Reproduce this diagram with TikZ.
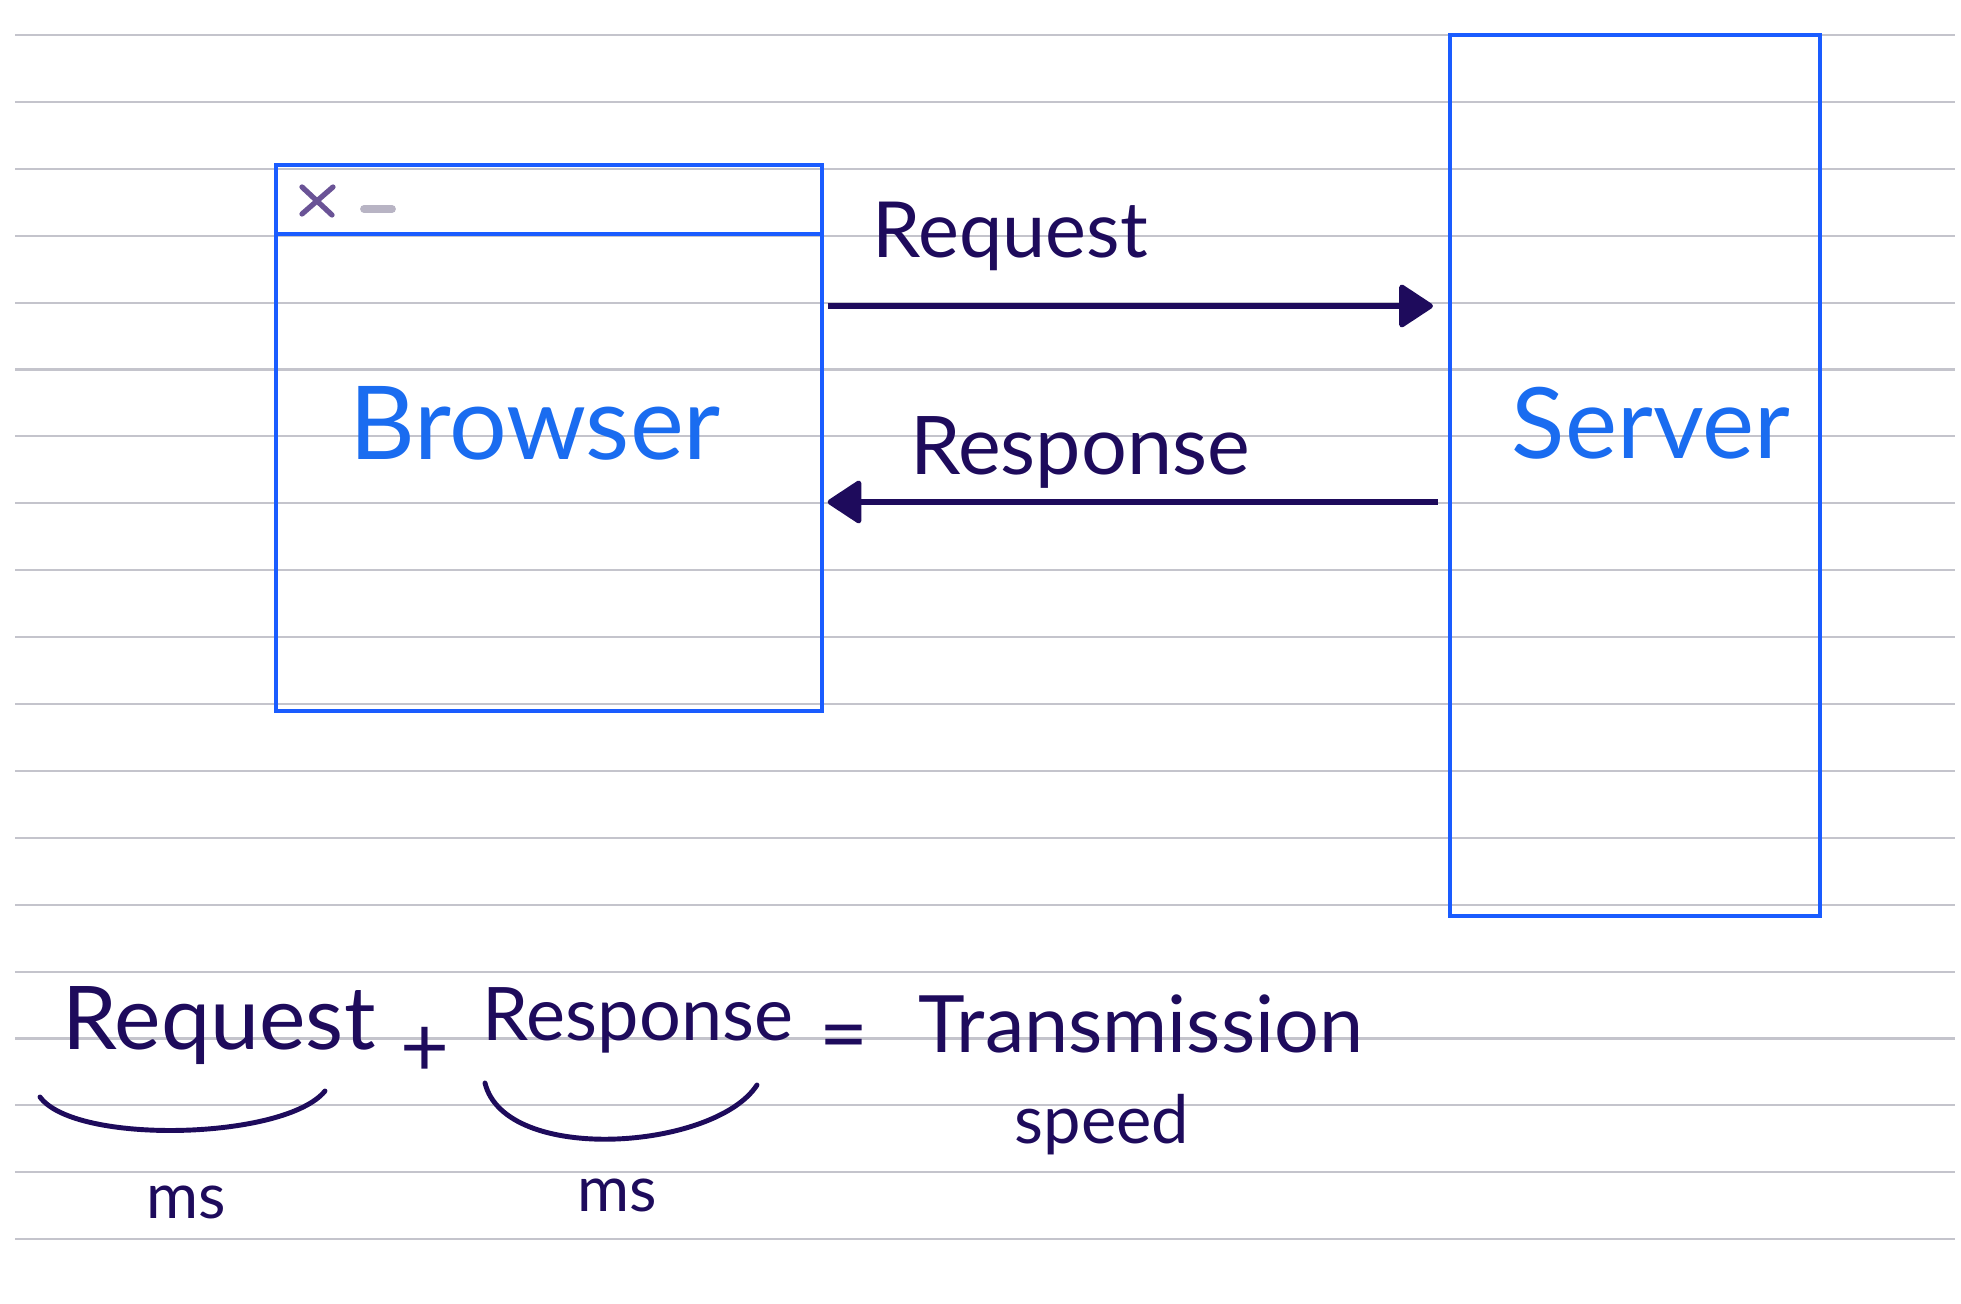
\documentclass[tikz,border=0pt]{standalone}
\usepackage{fontspec}
\usetikzlibrary{arrows.meta}
\newfontfamily\hand{Lato}
\definecolor{ruled}{HTML}{C4C4CC}
\definecolor{boxblue}{HTML}{1A5CFF}
\definecolor{txtblue}{HTML}{1A6CF0}
\definecolor{ink}{HTML}{1E0B5C}
\definecolor{xpurple}{HTML}{6A5396}
\definecolor{dashgray}{HTML}{B8B4C4}
\tikzset{
  boxstyle/.style={draw=boxblue, line width=1.1pt, fill=none, inner sep=0pt},
  arrowstyle/.style={draw=ink, line width=1.5pt, -{Triangle[length=0.36cm,width=0.46cm,round]}},
  inklabel/.style={text=ink, font=\hand, inner sep=0pt},
  bluelabel/.style={text=txtblue, font=\hand, inner sep=0pt},
  bracestyle/.style={draw=ink, line width=1.4pt, line cap=round},
}
\begin{document}
\begin{tikzpicture}[x=0.01cm, y=-0.01cm]
\useasboundingbox (0,0) rectangle (1961,1304);
\fill[white] (0,0) rectangle (1961,1304);
% ruled lines
\foreach \k in {0,...,18} {
  \draw[ruled, line width=0.6pt] (15,{35+66.9*\k}) -- (1955,{35+66.9*\k});
}
% boxes
\node[boxstyle, minimum width=5.46cm, minimum height=5.46cm] (browser) at (549,438) {};
\node[boxstyle, minimum width=3.70cm, minimum height=8.81cm] (server) at (1635,475.5) {};
\draw[boxblue, line width=1.1pt] (browser.west |- 0,234) -- (browser.east |- 0,234);
% window controls
\draw[xpurple, line width=1.5pt, line cap=round] (302,214) -- (333,187) (302,187) -- (332,215);
\draw[dashgray, line width=2.2pt, line cap=round] (364,209) -- (392,209);
% labels in boxes
\node[bluelabel, font=\hand\fontsize{29}{32}\selectfont] (browserlabel) at (535,423) {Browser};
\node[bluelabel, font=\hand\fontsize{28}{32}\selectfont] (serverlabel) at (1651,423) {Server};
% arrows
\coordinate (reqy) at (0,306);
\coordinate (resy) at (0,502);
\draw[arrowstyle, shorten <=1pt, shorten >=0.15cm] (browser.east |- reqy) -- (server.west |- reqy);
\draw[arrowstyle, shorten <=0.1cm, shorten >=1pt] (server.west |- resy) -- (browser.east |- resy);
\node[inklabel, font=\hand\fontsize{22}{26}\selectfont] (reqlabel) at (1010,236) {Request};
\node[inklabel, font=\hand\fontsize{23}{26}\selectfont] (reslabel) at (1080,452) {Response};
% equation
\node[inklabel, font=\hand\fontsize{25}{30}\selectfont] (eqreq) at (219,1026) {Request};
\node[inklabel, font=\hand\fontsize{24}{28}\selectfont] (eqplus) at (425,1052) {+};
\node[inklabel, font=\hand\fontsize{21}{26}\selectfont] (eqres) at (638,1020) {Response};
\node[inklabel, font=\hand\fontsize{24}{28}\selectfont] (eqeq) at (844,1044) {=};
\node[inklabel, font=\hand\fontsize{22.5}{27}\selectfont] (eqtrans) at (1141,1024) {Transmission};
\node[inklabel, font=\hand\fontsize{19}{24}\selectfont] (eqspeed) at (1102,1125) {speed};
\draw[bracestyle] (40,1097) .. controls (75,1145) and (285,1140) .. (325,1091);
\draw[bracestyle] (485,1083) .. controls (505,1165) and (715,1150) .. (757,1085);
\node[inklabel, font=\hand\fontsize{18}{22}\selectfont] (ms1) at (186,1202) {ms};
\node[inklabel, font=\hand\fontsize{18}{22}\selectfont] (ms2) at (617,1195) {ms};
\end{tikzpicture}
\end{document}
